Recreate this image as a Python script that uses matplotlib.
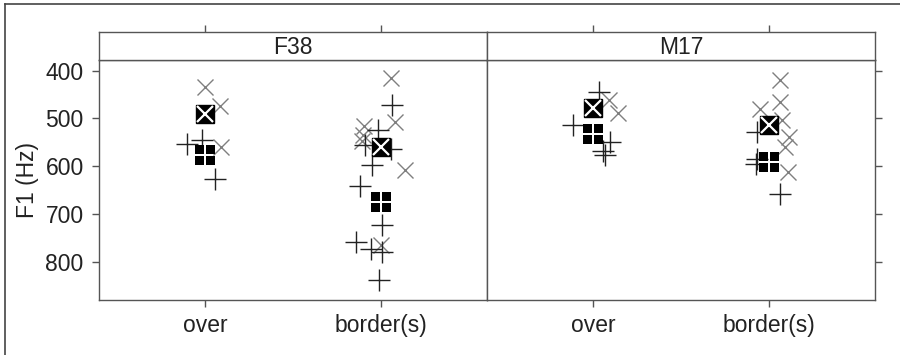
import matplotlib
matplotlib.use("Agg")
import matplotlib.pyplot as plt
from matplotlib.path import Path
from matplotlib.lines import Line2D

plt.rcParams['font.family'] = ['Liberation Sans', 'DejaVu Sans']

# data: F1 (Hz), x jitter (category units)
categories = ["over", "border(s)"]
speakers = ["F38", "M17"]

# grey crosses (x)
f38_over_x = [434, 473, 560]
f38_over_x_jit = [0.0, 0.085, 0.09]
f38_border_x = [415, 508, 515, 535, 548, 608, 765]
f38_border_x_jit = [0.055, 0.08, -0.096, -0.105, -0.108, 0.136, 0.0]
m17_over_x = [462, 489]
m17_over_x_jit = [0.09, 0.14]
m17_border_x = [419, 466, 480, 504, 538, 560, 612]
m17_border_x_jit = [0.06, 0.06, -0.05, 0.07, 0.11, 0.09, 0.105]

# black pluses (+)
f38_over_p = [554, 546, 626]
f38_over_p_jit = [-0.10, -0.015, 0.057]
f38_border_p = [471, 525, 563, 555, 598, 641, 723, 758, 772, 779, 838]
f38_border_p_jit = [0.064, -0.02, 0.057, -0.09, -0.05, -0.12, 0.007, -0.143, -0.058, 0.007, -0.011]
m17_over_p = [445, 513, 549, 567, 577]
m17_over_p_jit = [0.035, -0.11, 0.095, 0.06, 0.07]
m17_border_p = [529, 585, 595, 657]
m17_border_p_jit = [-0.07, -0.07, -0.075, 0.06]

# group means
f38_mean_x = [490, 560]
f38_mean_p = [577, 675]
m17_mean_x = [478, 513]
m17_mean_p = [532, 591]

panels = {
    "F38": dict(x=[(f38_over_x, f38_over_x_jit), (f38_border_x, f38_border_x_jit)],
                p=[(f38_over_p, f38_over_p_jit), (f38_border_p, f38_border_p_jit)],
                mx=f38_mean_x, mp=f38_mean_p),
    "M17": dict(x=[(m17_over_x, m17_over_x_jit), (m17_border_x, m17_border_x_jit)],
                p=[(m17_over_p, m17_over_p_jit), (m17_border_p, m17_border_p_jit)],
                mx=m17_mean_x, mp=m17_mean_p),
}

# four-squares marker
verts = []
codes = []
s, g = 0.92, 0.08
for (x0, y0) in [(-1, -1), (g, -1), (-1, g), (g, g)]:
    verts += [(x0, y0), (x0 + s, y0), (x0 + s, y0 + s), (x0, y0 + s), (x0, y0)]
    codes += [Path.MOVETO, Path.LINETO, Path.LINETO, Path.LINETO, Path.CLOSEPOLY]
four_sq = Path(verts, codes)

W, H = 900, 355
fig = plt.figure(figsize=(9, 3.55), dpi=100)
edge = "#555555"
txt = "#222222"
fs = 16.5

left_px = [99, 487]
pw = 388
top_px, bot_px, strip_top = 60, 300, 32

for i, name in enumerate(speakers):
    d = panels[name]
    ax = fig.add_axes([left_px[i] / W, 1 - bot_px / H, pw / W, (bot_px - top_px) / H])
    for j in range(2):
        vals, jit = d["x"][j]
        ax.plot([j + 1 + o for o in jit], vals, ls="none", marker="x", ms=12,
                mew=1.0, color="#7f7f7f")
        vals, jit = d["p"][j]
        ax.plot([j + 1 + o for o in jit], vals, ls="none", marker="+", ms=16,
                mew=1.0, color="#222222")
    xs = [1, 2]
    ax.plot(xs, d["mx"], ls="none", marker="s", ms=13.5, color="black")
    ax.plot(xs, d["mx"], ls="none", marker="x", ms=11, mew=1.6, color="white")
    ax.plot(xs, d["mp"], ls="none", marker=four_sq, ms=14, color="black", mew=0)

    ax.set_xlim(0.4, 2.6)
    ax.set_ylim(879, 378)
    ax.set_xticks([1, 2])
    ax.set_xticklabels(categories, fontsize=fs, color=txt)
    ax.set_yticks([400, 500, 600, 700, 800])
    ax.tick_params(axis="x", length=5, width=1, color=edge, pad=5)
    ax.tick_params(axis="y", length=5, width=1, color=edge, pad=6, labelsize=fs,
                   labelcolor=txt)
    if i == 0:
        ax.set_ylabel("F1 (Hz)", fontsize=fs, labelpad=5, color=txt)
    else:
        ax.yaxis.tick_right()
        ax.tick_params(axis="y", labelright=False)
    for sp in ax.spines.values():
        sp.set_color(edge)
        sp.set_linewidth(1)

    sax = fig.add_axes([left_px[i] / W, 1 - top_px / H, pw / W, (top_px - strip_top) / H])
    sax.set_xlim(0.4, 2.6)
    sax.set_ylim(0, 1)
    sax.set_xticks([1, 2])
    sax.set_yticks([])
    sax.xaxis.tick_top()
    sax.tick_params(axis="x", length=5, width=1, color=edge, labeltop=False)
    for sp in sax.spines.values():
        sp.set_color(edge)
        sp.set_linewidth(1)
    sax.text(1.5, 0.45, name, ha="center", va="center", fontsize=fs, color=txt)

# outer frame (left and top edges visible)
fig.add_artist(Line2D([5 / W, 5 / W], [0, 1 - 4 / H], color="#444444", lw=1.2))
fig.add_artist(Line2D([5 / W, 1], [1 - 4 / H, 1 - 4 / H], color="#444444", lw=1.2))

fig.savefig("out.png", dpi=100)
